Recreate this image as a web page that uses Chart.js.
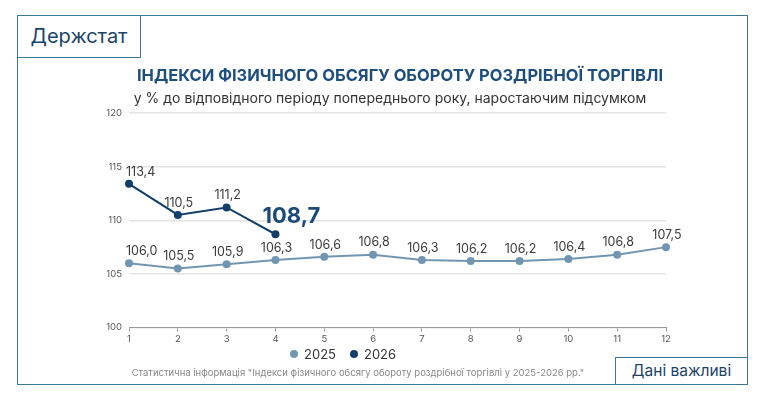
<!DOCTYPE html>
<html lang="uk">
<head>
<meta charset="utf-8">
<title>Індекси фізичного обсягу обороту роздрібної торгівлі</title>
<script src="https://cdn.jsdelivr.net/npm/chart.js@4.4.1/dist/chart.umd.min.js"></script>
<style>
  html, body { margin: 0; padding: 0; background: #fff; }
  body { width: 764px; height: 401px; position: relative; overflow: hidden; font-family: Inter, "Noto Sans", sans-serif; }
  #frame { position: absolute; left: 17px; top: 15px; width: 729px; height: 368px; border: 1.5px solid #3f7792; }
  #brand { position: absolute; left: 17px; top: 15px; width: 122px; height: 41px; border: 1.5px solid #3f7792;
           color: #1c4468; font-size: 20px; line-height: 41px; text-align: center; background: #fff; }
  #badge { position: absolute; left: 615px; top: 357px; width: 131px; height: 26px; border: 1.5px solid #3f7792;
           color: #1c4468; font-size: 15.5px; line-height: 26px; text-align: center; background: #fff; }
  #title { position: absolute; left: 0; width: 800px; top: 65px; text-align: center; color: #1d4e7e;
           font-size: 16.5px; font-weight: bold; line-height: 20px; }
  #subtitle { position: absolute; left: 0; width: 780px; top: 89px; text-align: center; color: #333;
              font-size: 14px; line-height: 18px; }
  #legend { position: absolute; left: 290px; top: 345px; color: #333; font-size: 13px; line-height: 18px; }
  #legend span { display: inline-block; margin-right: 14px; }
  #legend i { display: inline-block; width: 8px; height: 8px; border-radius: 50%; margin-right: 6px; vertical-align: 1px; }
  #source { position: absolute; left: 0; width: 716px; top: 367px; text-align: center; color: #888; font-size: 9.5px; }
  #chart { position: absolute; left: 0; top: 0; }
</style>
</head>
<body>
<div id="frame"></div>
<canvas id="chart" width="764" height="401"></canvas>
<div id="brand">Держстат</div>
<div id="title">ІНДЕКСИ ФІЗИЧНОГО ОБСЯГУ ОБОРОТУ РОЗДРІБНОЇ ТОРГІВЛІ</div>
<div id="subtitle">у % до відповідного періоду попереднього року, наростаючим підсумком</div>
<div id="legend"></div>
<div id="badge">Дані важливі</div>
<div id="source">Статистична інформація "Індекси фізичного обсягу обороту роздрібної торгівлі у 2025-2026 рр."</div>
<script>
// months of the year, cumulative
const months = ['1', '2', '3', '4', '5', '6', '7', '8', '9', '10', '11', '12'];
const values2025 = [106.0, 105.5, 105.9, 106.3, 106.6, 106.8, 106.3, 106.2, 106.2, 106.4, 106.8, 107.5];
const values2026 = [113.4, 110.5, 111.2, 108.7];
const yTicks = [100, 105, 110, 115, 120];

const color2025 = '#7296b2';
const color2026 = '#123f6a';

// value labels above the points, comma as decimal separator
const valueLabels = {
    id: 'valueLabels',
    afterDatasetsDraw(chart) {
        const ctx = chart.ctx;
        chart.data.datasets.forEach((ds, di) => {
            const meta = chart.getDatasetMeta(di);
            const last = ds.data.length - 1;
            meta.data.forEach((pt, i) => {
                const text = ds.data[i].toFixed(1).replace('.', ',');
                const big = di === 1 && i === last;
                ctx.save();
                ctx.textBaseline = 'middle';
                if (big) {
                    ctx.font = 'bold 22px Inter, sans-serif';
                    ctx.fillStyle = '#1b4a78';
                    ctx.textAlign = 'left';
                    ctx.fillText(text, pt.x - 13, pt.y - 18);
                } else {
                    ctx.font = '12.5px Inter, sans-serif';
                    ctx.fillStyle = '#3c3c3c';
                    ctx.textAlign = i === 0 ? 'left' : 'center';
                    ctx.fillText(text, i === 0 ? pt.x - 3 : pt.x + 1, pt.y - 12);
                }
                ctx.restore();
            });
        });
    }
};

const chart = new Chart(document.getElementById('chart'), {
    type: 'line',
    data: {
        labels: months,
        datasets: [
            {
                label: '2025',
                data: values2025,
                borderColor: color2025,
                backgroundColor: color2025,
                borderWidth: 2,
                pointRadius: 4,
                pointBorderWidth: 0,
                tension: 0
            },
            {
                label: '2026',
                data: values2026,
                borderColor: color2026,
                backgroundColor: color2026,
                borderWidth: 2,
                pointRadius: 4,
                pointBorderWidth: 0,
                tension: 0
            }
        ]
    },
    options: {
        responsive: false,
        animation: false,
        layout: { padding: { top: 113, left: 100, right: 98, bottom: 54 } },
        plugins: {
            legend: { display: false },
            tooltip: { enabled: false }
        },
        scales: {
            x: {
                grid: { display: true, drawOnChartArea: false, drawTicks: true, tickLength: 4, color: '#999' },
                border: { color: '#999', width: 1 },
                ticks: { color: '#555', font: { family: 'Inter', size: 9.5 }, padding: 2 }
            },
            y: {
                min: 100,
                max: 120,
                afterBuildTicks: s => { s.ticks = yTicks.map(v => ({ value: v })); },
                afterFit: s => { s.width = 29; },
                grid: { color: '#e4e4e4', lineWidth: 1.5, drawTicks: false },
                border: { display: false },
                ticks: { color: '#555', font: { family: 'Inter', size: 9.5 }, padding: 7 }
            }
        }
    },
    plugins: [valueLabels]
});

// simple html legend built from the datasets
document.getElementById('legend').innerHTML = chart.data.datasets
    .map(ds => '<span><i style="background:' + ds.backgroundColor + '"></i>' + ds.label + '</span>')
    .join('');
</script>
</body>
</html>
